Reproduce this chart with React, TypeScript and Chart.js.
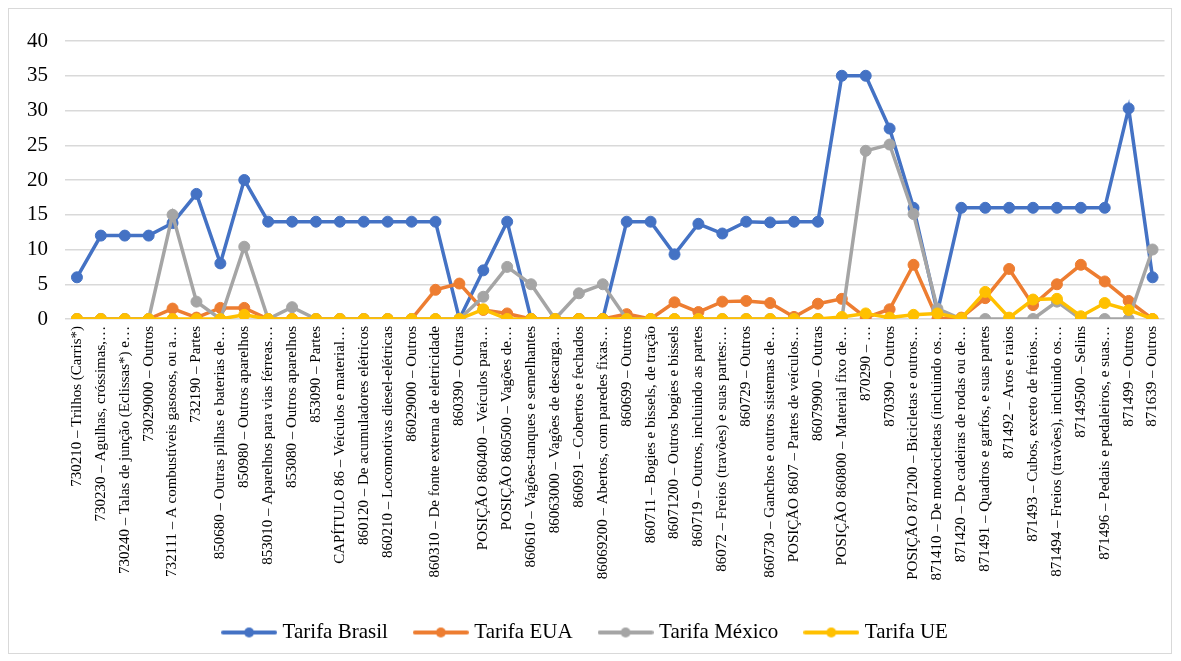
import React, { useEffect, useRef } from "react";
import { Chart, registerables } from "chart.js";

Chart.register(...registerables);

const categories: string[] = [
  "730210 – Trilhos (Carris*)",
  "730230 – Agulhas, cróssimas,…",
  "730240 – Talas de junção (Eclissas*) e…",
  "73029000 – Outros",
  "732111 – A combustíveis gasosos, ou a…",
  "732190 – Partes",
  "850680 – Outras pilhas e baterias de…",
  "850980 – Outros aparelhos",
  "853010 – Aparelhos para vias férreas…",
  "853080 – Outros aparelhos",
  "853090 – Partes",
  "CAPÍTULO 86 – Veículos e material…",
  "860120 – De acumuladores elétricos",
  "860210 – Locomotivas diesel-elétricas",
  "86029000 – Outros",
  "860310 – De fonte externa de eletricidade",
  "860390 – Outras",
  "POSIÇÃO 860400 – Veículos para…",
  "POSIÇÃO 860500 – Vagões de…",
  "860610 – Vagões-tanques e semelhantes",
  "86063000 – Vagões de descarga…",
  "860691 – Cobertos e fechados",
  "86069200 – Abertos, com paredes fixas…",
  "860699 – Outros",
  "860711 – Bogies e bissels, de tração",
  "86071200 – Outros bogies e bissels",
  "860719 – Outros, incluindo as partes",
  "86072 – Freios (travões) e suas partes:…",
  "860729 – Outros",
  "860730 – Ganchos e outros sistemas de…",
  "POSIÇÃO 8607 – Partes de veículos…",
  "86079900 – Outras",
  "POSIÇÃO 860800 – Material fixo de…",
  "870290 – …",
  "870390 – Outros",
  "POSIÇÃO 871200 – Bicicletas e outros…",
  "871410 – De motocicletas (incluindo os…",
  "871420 – De cadeiras de rodas ou de…",
  "871491 – Quadros e garfos, e suas partes",
  "871492 – Aros e raios",
  "871493 – Cubos, exceto de freios…",
  "871494 – Freios (travões), incluindo os…",
  "87149500 – Selins",
  "871496 – Pedais e pedaleiros, e suas…",
  "871499 – Outros",
  "871639 – Outros",
];

const tarifaBrasil: number[] = [
  6, 12, 12, 12, 13.8, 18, 8, 20, 14, 14, 14, 14, 14, 14, 14, 14, 0, 7, 14, 0, 0, 0, 0,
  14, 14, 9.3, 13.7, 12.3, 14, 13.9, 14, 14, 35, 35, 27.4, 16, 1, 16, 16, 16, 16, 16,
  16, 16, 30.3, 6,
];
const tarifaEUA: number[] = [
  0, 0, 0, 0, 1.5, 0.2, 1.6, 1.6, 0, 0, 0, 0, 0, 0, 0, 4.2, 5.1, 1.3, 0.8, 0, 0, 0, 0,
  0.7, 0, 2.4, 1.0, 2.5, 2.6, 2.3, 0.3, 2.2, 2.9, 0.2, 1.4, 7.8, 0, 0.2, 3.0, 7.2, 2.0,
  5.0, 7.8, 5.4, 2.6, 0,
];
const tarifaMexico: number[] = [
  0, 0, 0, 0, 15, 2.5, 0, 10.4, 0, 1.7, 0, 0, 0, 0, 0, 0, 0, 3.2, 7.5, 5.0, 0, 3.7, 5.0,
  0, 0, 0, 0, 0, 0, 0, 0, 0, 0, 24.2, 25.1, 15.1, 1.5, 0, 0, 0, 0, 2.5, 0, 0, 0, 10,
];
const tarifaUE: number[] = [
  0, 0, 0, 0, 0, 0, 0, 0.6, 0, 0, 0, 0, 0, 0, 0, 0, 0, 1.4, 0, 0, 0, 0, 0, 0, 0, 0, 0,
  0, 0, 0, 0, 0, 0.3, 0.8, 0.2, 0.6, 0.8, 0.1, 3.9, 0.2, 2.8, 2.9, 0.4, 2.3, 1.3, 0,
];

const seriesNames: string[] = ["Tarifa Brasil", "Tarifa EUA", "Tarifa México", "Tarifa UE"];
const seriesColors: string[] = ["#4472C4", "#ED7D31", "#A5A5A5", "#FFC000"];
const yTicks: number[] = [0, 5, 10, 15, 20, 25, 30, 35, 40];

const FONT = "'Liberation Serif', 'Times New Roman', serif";

function legendSample(color: string): HTMLCanvasElement {
  const c = document.createElement("canvas");
  c.width = 56;
  c.height = 14;
  const ctx = c.getContext("2d")!;
  ctx.strokeStyle = color;
  ctx.lineWidth = 4;
  ctx.lineCap = "round";
  ctx.beginPath();
  ctx.moveTo(2, 7);
  ctx.lineTo(54, 7);
  ctx.stroke();
  ctx.fillStyle = color;
  ctx.beginPath();
  ctx.arc(28, 7, 5, 0, Math.PI * 2);
  ctx.fill();
  return c;
}

export default function App() {
  const ref = useRef<HTMLCanvasElement | null>(null);

  useEffect(() => {
    if (!ref.current) return;
    const values = [tarifaBrasil, tarifaEUA, tarifaMexico, tarifaUE];
    const samples = seriesColors.map(legendSample);
    const chart = new Chart(ref.current, {
      type: "line",
      data: {
        labels: categories,
        datasets: values.map((v, i) => ({
          label: seriesNames[i],
          data: v,
          borderColor: seriesColors[i],
          backgroundColor: seriesColors[i],
          pointBackgroundColor: seriesColors[i],
          pointBorderColor: seriesColors[i],
          borderWidth: 3.5,
          pointRadius: 5.5,
          pointBorderWidth: 1,
          pointStyle: "circle",
          tension: 0,
          fill: false,
          order: 3 - i,
        })),
      },
      options: {
        animation: false,
        responsive: true,
        maintainAspectRatio: false,
        layout: { padding: { left: 0, right: 6, top: 32, bottom: 0 } },
        plugins: {
          tooltip: { enabled: false },
          legend: {
            position: "bottom",
            labels: {
              usePointStyle: true,
              pointStyleWidth: 46,
              padding: 30,
              color: "#000",
              font: { family: FONT, size: 21 },
              sort: (a: any, b: any) => a.datasetIndex - b.datasetIndex,
              generateLabels: (ch: any) => {
                const items = Chart.defaults.plugins.legend.labels.generateLabels(ch);
                return items.map((it: any) => ({
                  ...it,
                  pointStyle: samples[it.datasetIndex],
                }));
              },
            },
          },
        },
        scales: {
          x: {
            offset: true,
            grid: { display: false, drawTicks: false },
            border: { display: false },
            afterFit: (s: any) => {
              s.height = 273;
              s.paddingLeft = 0;
              s.paddingRight = 0;
            },
            ticks: {
              autoSkip: false,
              minRotation: 90,
              maxRotation: 90,
              padding: 7,
              color: "#000",
              font: { family: FONT, size: 15 },
            },
          },
          y: {
            min: 0,
            max: 40,
            afterFit: (s: any) => {
              s.width = 56;
            },
            afterBuildTicks: (s: any) => {
              s.ticks = yTicks.map((v) => ({ value: v }));
            },
            grid: { color: "#D9D9D9", lineWidth: 1.5, drawTicks: false },
            border: { display: false },
            ticks: {
              padding: 17,
              color: "#000",
              font: { family: FONT, size: 21 },
            },
          },
        },
      },
    });
    return () => chart.destroy();
  }, []);

  return (
    <div
      style={{
        width: 1164,
        height: 646,
        border: "1px solid #D9D9D9",
        boxSizing: "border-box",
        background: "#fff",
      }}
    >
      <div style={{ position: "relative", width: 1162, height: 644 }}>
        <canvas ref={ref} />
      </div>
    </div>
  );
}
